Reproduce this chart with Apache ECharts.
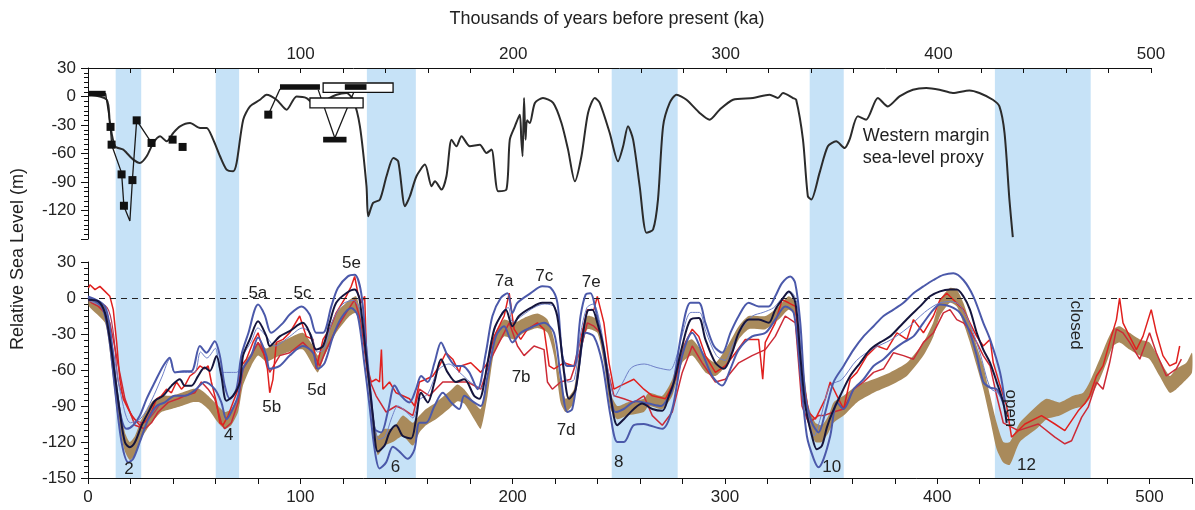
<!DOCTYPE html>
<html><head><meta charset="utf-8">
<script src="https://cdn.jsdelivr.net/npm/echarts@6/dist/echarts.min.js"></script>
<style>html,body{margin:0;padding:0;background:#fff}#c{width:1195px;height:510px}</style>
</head><body><div id="c"></div>
<script>
// ---------- DATA ----------
const glacialBands = [[13,25],[60,71],[131,154],[246,277],[339,355],[426,471]];

// top panel: Western margin sea-level proxy [ka, m]
const proxyCurve = [[0.2,2],[8.8,-3.4],[10.3,-27.9],[12.7,-52.4],[16.6,-55.9],[18.2,-59.4],[21.3,-66.4],[24.4,-69.9],[27.6,-62.9],[30.7,-48.9],[33.9,-41.9],[37,-47.2],[40.1,-38.4],[43.3,-31.4],[48,-27.9],[52.7,-33.1],[55.8,-33.1],[58.9,-45.4],[62.1,-62.9],[65.2,-77],[68.3,-78.7],[69.9,-69.9],[73,-24.4],[76.2,-10.4],[80.9,-3.4],[84,1.9],[88.7,-3.4],[93.4,-13.9],[98.1,0.1],[102.8,-1.6],[107.5,-10.4],[112.2,-3.4],[116.9,1.9],[121.6,3.7],[124.7,-3.4],[127.9,-31.4],[131,-94.5],[131.8,-126],[134.1,-112],[137.3,-108.5],[140.4,-84],[143.6,-64.7],[145.9,-68.2],[149.1,-115.5],[151.4,-105],[154.5,-84],[158.5,-71.7],[161.6,-94.5],[163.2,-89.3],[166.3,-98],[168.6,-84],[171,-45.4],[173.3,-52.4],[175.7,-41.9],[179.6,-52.4],[184.3,-50.7],[187.4,-59.4],[189.8,-55.9],[192.9,-99.8],[196.8,-98],[198.4,-45.4],[200.8,-31.4],[203.1,-19.1],[203.8,-45],[204.4,-62.9],[205.1,-1.6],[205.8,-45.4],[206.5,-25],[207.8,-27.9],[210.2,-6.8],[214,-1.6],[218.8,-6.8],[222.7,-27.9],[225.8,-55.9],[229,-89.3],[232.1,-62.9],[235.2,-17.3],[238.4,-1.6],[240.7,-6.8],[245.4,-38.4],[249.3,-68.2],[251.7,-52.4],[254,-31.4],[256.4,-45.4],[259.5,-94.5],[262.7,-143.5],[265.8,-140],[268.1,-108.5],[270.5,-31.4],[273.6,-6.8],[276.8,1.9],[281.5,-3.4],[287.7,-17.3],[292.4,-24.4],[297.1,-13.9],[303.4,-3.4],[312.8,-1.6],[320.6,1.9],[324.5,-1.6],[326.9,3.7],[331.6,-1.6],[333.1,-3.4],[336.3,-45.4],[338.6,-105],[340.2,-108.5],[344.1,-80.4],[348,-52.4],[351.9,-47.2],[355.9,-54.2],[358.2,-45.4],[362.1,-20.9],[366,-24.4],[371.5,-1.6],[376.2,-10.4],[381.7,0.1],[388,7.1],[394.3,8.9],[400.5,7.1],[406.8,3.7],[414.6,6.4],[419.3,3.7],[425.6,-3.4],[428.7,-10.4],[431.1,-38.4],[433.4,-108.5],[435,-148]];
const reefLine = [[0,3],[8.3,3],[10.5,-30],[11.1,-50.7],[15.8,-80.4],[16.9,-115.5],[19.7,-131],[21,-84],[22.9,-25.1],[29.9,-48.9]];
const reefSquares = [[10.6,-32],[11.1,-50.7],[15.8,-82],[16.9,-115],[20.9,-88],[22.9,-25.1],[29.9,-48.9],[39.8,-45.4],[44.5,-53.1],[84.8,-19.1]];
const reefBars = [[0,8.3,3],[90.3,109.1,10],[120.8,131,10],[110.6,121.6,-45.4]];
const openBoxes = [[110.6,143.5,4.3,14.2],[104.4,129.4,-12,-1.6]];
const linkA = [[84.8,-19.1],[90.3,8]];
const linkV = [[108.3,7],[116.1,-43.6],[125.5,7]];

// bottom panel: brown range band
const bandKa  = [0.5,8,11.1,14.3,17.4,19.7,22.1,25.2,29.9,34.6,39.3,44,48.7,52.7,56.6,61.3,64.4,67.5,70.7,73,76.9,80.1,84,88,93.4,101.2,106,108.3,111.5,116.9,123.2,126.3,129.5,131.8,134.2,136.5,139.7,143.6,148.3,153,156.1,159.2,163.9,170.2,174,177.2,181.9,185,188.2,191.3,196,200.7,205.4,211.7,216.4,219.5,222.6,225,228.9,232,235.2,239.9,243,246.1,249.3,254,261.8,264.2,270.5,275.2,279.9,284.6,290.8,295.5,300.2,306.5,311.2,319.1,325.3,330,333.2,336.3,339.4,342.6,345.7,348.8,351.2,355.9,362.2,370,377.8,385.7,393.5,398.2,401.3,406,409.2,412.3,415.4,418.6,421.7,424.9,428,431.1,434.2,438.9,446.8,451.5,457.7,464,468.7,471.8,476.5,479.7,482.8,485.9,490.6,495.4,500,504.7,509.5,512.6,517.3,520];
const bandHigh = [-1.4,-7,-34.5,-81.5,-112,-120,-115,-101,-87,-81.5,-81.5,-79,-76,-76,-81.5,-90,-95,-92.5,-81.5,-56.6,-45.6,-37,-42,-38,-34.5,-29,-40,-48,-34.5,-12.4,-1.4,1.4,-20.7,-56.6,-95,-115,-109,-109,-98,-104,-98,-92.5,-87,-78,-72,-76,-87,-92.5,-67.7,-32,-18,-20.7,-16.6,-13,-18,-34.5,-70,-84,-76,-37,-15,-18,-43,-79,-90,-87,-84,-79,-81.5,-67.7,-40,-34.5,-48,-54,-43,-23.5,-15,-15,-7,1.4,-4,-48,-90,-104,-106,-98,-87,-81.5,-73,-67.7,-62,-54,-37,-20,-1.4,8.3,7,-4,-20.7,-40,-56.6,-81.5,-104,-120,-120,-104,-90,-84,-87,-81.5,-79,-70,-51,-37,-26,-23.5,-29,-34.5,-37,-51,-65,-59,-54,-45.6];
const bandLow  = [-7,-20.7,-56.6,-103.6,-128,-135,-131,-117,-104,-95,-92.5,-90,-87,-87,-92.5,-104,-109,-106,-95,-73,-56.6,-48,-53,-50,-45.6,-43,-56.6,-62,-48,-29,-15,-12.4,-37,-70,-109,-131,-123,-120,-115,-123,-112,-106,-101,-92,-86,-88,-101,-109,-81.5,-45.6,-32,-34.5,-29,-25,-29,-48,-87,-95,-87,-48,-26,-29,-54,-92.5,-101,-98,-95,-90,-92.5,-81.5,-54,-48,-62,-65,-57,-34.5,-26,-26,-18,-9.7,-15,-65,-106,-120,-120,-112,-104,-98,-87,-79,-73,-65,-48,-32,-15,-4,-7,-20.7,-37,-56.6,-76,-101,-126,-137,-139,-120,-109,-101,-98,-92.5,-90,-84,-68,-54,-40,-37,-43,-48,-51,-65,-79,-76,-68,-62];

// model curves
const navyMean = [[0,-1.4],[4.9,-2.8],[8,-12.4],[10.3,-34.5],[12.7,-64.9],[15,-95.3],[17.4,-120.2],[19.7,-124.3],[22.1,-120.2],[25.2,-106.4],[28.4,-95.3],[31.5,-85.6],[35.4,-81.5],[39.3,-73.2],[43.3,-67.7],[45.6,-73.2],[48.7,-73.2],[51.9,-64.9],[55,-58],[57.4,-60.8],[60.5,-48.3],[62.8,-64.9],[65.2,-85.6],[68.3,-81.5],[71.5,-70.4],[73,-48.3],[76.2,-34.5],[80.1,-19.3],[84,-31.8],[85.6,-40],[90.3,-32],[95,-27.6],[101.2,-20.7],[104.4,-29],[107.5,-43],[110.7,-40],[113.8,-20.7],[116.9,-4],[121.6,4],[125.6,7],[127.9,-1.4],[131,-48],[134.2,-98],[136.5,-128],[139.7,-123],[142,-112],[145.1,-106],[148.3,-115],[152.2,-117],[154.5,-101],[156.9,-79],[160,-87],[163.2,-70],[166.3,-51],[169.4,-62],[173.3,-70],[177.2,-67.7],[181.9,-81.5],[184.3,-84],[188.2,-54],[191.3,-26],[194.4,-15],[196.8,-9.7],[199.9,-23.5],[203,-15],[208.5,-8.3],[214,-4],[218,-4],[221,-15],[224.2,-62],[226.6,-84],[229.7,-76],[232.8,-34.5],[235.2,-11],[237.5,-9.7],[239.9,-20.7],[243,-43],[246.1,-81.5],[249.3,-106],[252.4,-101],[257.1,-92.5],[261,-88],[265.8,-92.5],[270.5,-94],[273.6,-81.5],[276,-70],[279.9,-40],[283.8,-18],[287.7,-16.6],[290.8,-34.5],[295.5,-54],[299.5,-59],[303.4,-45.6],[306.5,-29],[311.2,-18],[315.9,-18],[320.6,-20.7],[323.7,-9.7],[326.9,-1.4],[330,5.5],[333.2,-4],[335.5,-48],[337.9,-90],[341,-115],[343.3,-126],[345.7,-123],[348,-108],[350.5,-96],[354.3,-81.5],[359,-65],[363.7,-54],[368.4,-43],[373.1,-37],[377.8,-32],[382.5,-23.5],[387.2,-15],[391.9,-7],[396.6,1.4],[401.3,5.5],[406,7],[409.2,7],[412.3,1.4],[415.4,-9.7],[418.6,-29],[421.7,-43],[424.9,-54],[428,-70],[431.1,-87],[432.7,-104]];
const blueUpper = [[0,1.4],[8,-7],[11.1,-37],[13.5,-76],[15.8,-101],[18.2,-109],[21.3,-106],[24.4,-98],[27.6,-84],[31.5,-70],[35.4,-56.6],[38.5,-49.7],[40.9,-62],[44.8,-61],[48.7,-61],[52.7,-40],[55.8,-45.6],[59.7,-36],[62.1,-48],[64.4,-73],[66.8,-84],[69.9,-76],[72.2,-48],[75.4,-30],[80.1,-5.5],[83.2,-14],[86.3,-29],[91.9,-20.7],[95,-13.8],[100.5,-7],[104.4,-13.8],[107.5,-29],[110.7,-29],[114.6,-7],[117.7,8.3],[122.4,18],[125.6,19.3],[128.7,4],[131,-40],[133.4,-84],[135,-109],[138.1,-112],[141.2,-95],[144.4,-73],[147.5,-81.5],[151.4,-87],[154.5,-76],[156.9,-65],[160,-70],[163.2,-54],[166.3,-37],[169.4,-48],[173.4,-56.6],[176.4,-56.6],[179.6,-62],[183.5,-76],[187.4,-45.6],[190.5,-15],[194.4,0],[197.6,4],[199.9,-12.4],[202.3,-4],[208.5,4],[214,9.7],[218,8.3],[221.1,-4],[223.4,-48],[225.8,-56.6],[228.9,-56.6],[232,-15],[234.4,2.8],[236.7,4],[239.1,-9.7],[242.2,-37],[245.4,-73],[248.5,-95],[252.4,-92.5],[258,-86],[264,-88],[270,-90],[273,-84],[275.2,-76],[279.9,-26],[283.8,-4],[287.7,-4],[290.8,-20.7],[294.8,-40],[298.7,-45.6],[302.6,-29],[306.5,-15],[311.2,-4],[315.9,-7],[320.6,-7],[323.7,1.4],[326.9,12.4],[330.8,18],[333.1,12.4],[335.5,-20.7],[337.9,-81.5],[341,-104],[344.1,-112],[347.3,-95],[351.2,-70],[355.9,-56.6],[360.6,-43],[365.3,-32],[370,-23.5],[374.7,-15],[379.4,-9.7],[384.1,-4],[388.8,4],[393.5,9.7],[398.2,15],[402.9,19.3],[407.6,20.7],[412.3,15],[417,1.4],[421.7,-20.7],[424.9,-34.5],[429.6,-62],[431.9,-87]];
const blueLower = [[0,0],[6.4,-7],[9.6,-29],[12.7,-76],[15.8,-120],[19,-137],[21.3,-134],[24.4,-120],[28.4,-101],[32.3,-90],[36.2,-87],[40.9,-81.5],[45.6,-81.5],[50.3,-77],[55,-70],[59.7,-76],[62.8,-87],[65.2,-101],[67.5,-95],[70.7,-81.5],[73,-59],[76.9,-48],[80.1,-33],[84,-48],[85.6,-59],[90.3,-56.6],[95,-48],[101.2,-40],[106,-45.6],[108.3,-59],[111.5,-54],[115.4,-32],[119.3,-16.6],[124,-8.3],[127.1,-15],[130.3,-56.6],[132.6,-90],[135,-126],[137.3,-142],[140.4,-137],[143.6,-124],[146.7,-128],[150.6,-134],[153.8,-126],[156.1,-104],[159.2,-104],[163.2,-90],[167.1,-79],[171,-87],[174.9,-92.5],[177.2,-81.5],[181.9,-87],[185,-90],[188.2,-65],[192.1,-32],[196,-23.5],[199.9,-37],[203.8,-29],[210.1,-23.5],[214.8,-20.7],[219.5,-29],[222.6,-65],[225.8,-95],[228.1,-92.5],[231.3,-56.6],[234.4,-29],[238.3,-32],[242.2,-54],[246.1,-98],[249.3,-120],[252.4,-120],[257.1,-106],[261.8,-105],[264.2,-106],[270.5,-109],[275.2,-92.5],[279.9,-48],[284.6,-29],[289.3,-45.6],[294,-65],[298.7,-73],[302.6,-59],[306.5,-43],[312.8,-32],[319.1,-29],[323.7,-18],[328.4,-7],[332.4,-12.4],[335.5,-62],[338.6,-115],[341.8,-134],[344.1,-141],[346.5,-134],[349.6,-115],[352.8,-87],[355.9,-92.5],[360.6,-76],[365.3,-67.7],[370,-56.6],[374.7,-51],[379.4,-43],[384.1,-37],[388.8,-32],[393.5,-20.7],[398.2,-9.7],[401.3,-5.5],[406,-7],[410.7,-12.4],[415.4,-29],[418.6,-48],[421.7,-70],[424.9,-74.6],[428,-76],[431.1,-87]];
const thinBlue = [[0,-2],[8,-10],[12,-45],[16,-85],[20,-104],[25,-100],[30,-85],[35,-65],[38.5,-51],[41,-62],[50,-62],[53,-45],[56,-50],[60,-42],[63,-62],[70,-62],[73,-48],[77,-36],[80,-25],[84,-32],[88,-40],[95,-32],[101,-25],[105,-30],[108,-45],[111,-43],[115,-20],[120,-5],[125,-2],[128,-10],[131,-50],[134,-95],[137,-118],[140,-115],[143,-100],[146,-90],[150,-95],[153,-100],[156,-85],[160,-80],[165,-60],[170,-55],[175,-62],[180,-70],[185,-75],[190,-35],[195,-12],[198,-8],[200,-20],[205,-14],[210,-8],[215,-5],[220,-8],[223,-40],[226,-70],[229,-68],[232,-30],[235,-8],[238,-5],[241,-20],[245,-60],[248,-82],[252,-70],[256,-58],[262,-55],[268,-58],[274,-60],[277,-50],[280,-30],[284,-12],[288,-12],[291,-28],[296,-48],[300,-52],[304,-38],[308,-25],[313,-15],[318,-12],[323,-8],[327,0],[331,5],[334,-5],[336,-50],[339,-95],[342,-115],[345,-100],[348,-80],[350,-72],[355,-68],[362,-52],[370,-42],[378,-35],[386,-25],[394,-12],[400,-5],[405,-3],[410,-5],[415,-20],[420,-45],[425,-75],[429,-80],[432,-95]];
const redUpper = [[0.2,8.3],[0.9,11],[3.3,7],[5.6,9.7],[8,5.5],[10.3,1.4],[11.9,-9.7],[13.5,-37],[15,-67.7],[16.6,-84],[20.5,-98],[24.4,-106],[27.6,-102],[29.9,-95],[32.3,-84],[34.6,-81.5],[37,-76],[39.3,-79],[41.7,-70],[44,-76],[45.6,-73],[48,-65],[50.3,-62],[52.7,-56.6],[55,-59],[56.6,-56.6],[58.1,-70],[60.5,-87],[62.1,-104],[63.6,-106],[66,-98],[68.3,-87],[70.7,-76],[72.2,-56.6],[74.6,-51],[77.7,-37],[80.1,-29],[82.4,-43],[84.5,-59],[85.6,-79],[87.1,-68],[88.7,-37],[91.9,-34.5],[95,-29],[99.7,-15],[102.8,-32],[106,-34.5],[107.5,-59],[110.7,-34.5],[113.8,-26],[116.9,-12.4],[121.6,1.4],[124,9.7],[125.6,18],[127.1,4],[128.7,-4],[130.3,1.4],[131.4,-56.6],[133.4,-70],[135.7,-67.7],[137.3,-70],[138.2,-43],[138.9,-76],[142,-70],[145.1,-79],[148.3,-81.5],[151.4,-84],[153.8,-90],[156.1,-70],[159.2,-67.7],[162.4,-65],[165.5,-56.6],[168.6,-45.6],[171.8,-51],[174.9,-62],[175.6,-56.6],[180.3,-54],[185,-62],[188.2,-54],[191.3,-32],[196,-15],[198.4,4],[200.7,-26],[203.8,-34.5],[207,-26],[211.7,-20.7],[214.8,-26],[217.2,-56.6],[219.5,-59],[224.2,-54],[228.9,-56.6],[232,-34.5],[235.2,-9.7],[238.3,-9.7],[239.9,1.4],[243,-20.7],[245.4,-54],[247.7,-76],[250.9,-73],[257.1,-67.7],[261.8,-76],[265.8,-81.5],[272,-84],[276.7,-67.7],[281.4,-37],[284.6,-26],[287.7,-32],[290.8,-48],[295.5,-62],[300.2,-56.6],[305,-45.6],[309.6,-34.5],[315.9,-34.5],[317.8,-67.7],[319,-37],[323.7,-20.7],[326.9,-1.4],[330,-4],[333.2,-7],[336.3,-62],[339.4,-95],[342.6,-101],[347.3,-84],[349.6,-70],[352.8,-81.5],[355.9,-92.5],[359,-67.7],[362.2,-62],[366.9,-48],[371.6,-40],[376.3,-43],[381,-29],[385.7,-34.5],[388.8,-18],[393.5,-29],[398.2,-15],[401.3,-1.4],[404.5,4],[407.6,-1.4],[412.3,-9.7],[415.4,-20.7],[418.6,-32],[421.7,-40],[424.9,-34.5],[426.4,-54],[429.6,-73],[432.7,-90],[435,-116],[441.3,-105],[449.1,-98],[455.4,-105],[460.1,-110.5],[466.4,-94],[469.5,-88],[471.8,-81.5],[475,-65],[478.1,-56.6],[481.2,-37],[484.4,-18],[485.9,0],[487.5,-20.7],[490.6,-32],[493.8,-43],[496.9,-32],[500.8,-9.7],[503.2,-29],[506.3,-48],[509.5,-56.6],[512.6,-54],[514.2,-40]];
const redLower = [[0.2,-1.4],[1.7,-4],[4.9,-7],[8,-12.4],[10.3,-20.7],[11.9,-34.5],[14.3,-56.6],[17.4,-84],[22.1,-106],[26.8,-109],[29.9,-104],[33,-95],[37.8,-87],[42.5,-84],[45.6,-81.5],[50.3,-79],[53.4,-70],[56.6,-76],[59.7,-84],[62.8,-104],[64.4,-109],[67.5,-104],[70.7,-87],[73,-59],[76.9,-48],[80.1,-37],[83.2,-48],[85.6,-62],[90.3,-48],[95,-45.6],[101.2,-37],[106,-45.6],[109.1,-56.6],[112.2,-43],[116.9,-26],[121.6,-12.4],[125.6,-1.4],[128.7,-20.7],[131.8,-65],[135.7,-81.5],[140.4,-95],[145.1,-90],[148.3,-92.5],[153,-98],[156.1,-76],[160.8,-81.5],[167.1,-70],[173.4,-70],[178.8,-70],[185,-76],[189.7,-51],[194.4,-34.5],[198.4,-20.7],[202.3,-40],[205.4,-48],[210.1,-40],[214.8,-43],[216.4,-70],[218.7,-76],[222.6,-70],[227.3,-67.7],[232,-43],[235.2,-20.7],[238.3,-23.5],[241.4,-29],[244.6,-59],[247.7,-81.5],[252.4,-84],[257.1,-87],[261.8,-81.5],[265.8,-98],[270.5,-106],[275.2,-95],[279.9,-62],[284.6,-40],[289.3,-54],[295.5,-70],[300.2,-67.7],[306.5,-54],[312.8,-48],[319,-43],[323.7,-32],[328.4,-15],[333.2,-20.7],[336.3,-90],[339.4,-104],[344.1,-98],[346.5,-98],[351.2,-95],[355.9,-92.5],[360.6,-76],[365.3,-70],[370,-62],[374.7,-59],[379.4,-45.6],[384.1,-48],[388.8,-51],[393.5,-37],[398.2,-29],[402.9,-12.4],[406,-9.7],[409.2,-18],[412.3,-20.7],[415.4,-26.8],[418.6,-37],[421.7,-48],[424.9,-56.6],[428,-81.5],[431.1,-104],[438.2,-110.5],[447.6,-105],[455.4,-116],[460.1,-121.5],[463.3,-119],[468,-99.5],[471.1,-91],[475,-70],[478.1,-76],[481.2,-54],[484.4,-26],[487.5,-29],[490.6,-37],[495.4,-51],[500,-29],[503.2,-45.6],[507.9,-65],[512.6,-59],[515,-51]];
const crimsonEarly = [[0,-1],[9,-8],[12,-30],[14.3,-70],[18,-88],[22,-101],[26,-104],[30,-98],[34,-88]];

const stageLabels = [
  ['2',19.3,-143],['4',66.3,-114.6],['5a',80,3.9],['5b',86.5,-91.4],['5c',101,3.9],['5d',107.7,-77.3],['5e',124.1,28.8],
  ['6',144.8,-141.1],['7a',196,13.8],['7b',204,-65.7],['7c',214.9,17.9],['7d',225.2,-110.5],['7e',237,13],
  ['8',250,-137],['10',350.3,-141.1],['12',442,-139.5]
];
const rotatedLabels = [['open',434.4,-92],['closed',465,-22.6]];
const topTicksLabel = [100,200,300,400,500];

// ---------- CHART ----------
const FONT = "'Liberation Sans', Arial, Helvetica, sans-serif";
const chart = echarts.init(document.getElementById('c'), null, {renderer:'canvas'});
const axisCol = '#111';
const tickLbl = {fontFamily:FONT, fontSize:17, color:'#222'};

function lineSeries(data, color, width, z, xi, yi, smooth){
  return {type:'line', data, xAxisIndex:xi, yAxisIndex:yi, symbol:'none', smooth:smooth||0, z,
    lineStyle:{color, width}, silent:true, clip:false};
}
const labelItem = {color:'transparent', opacity:1};

const option = {
  animation:false,
  backgroundColor:'#fff',
  grid:[
    {left:88, top:68, width:1063, height:171},
    {left:88, top:262, width:1107, height:216},
    {left:88, top:68, width:1107, height:410}
  ],
  xAxis:[
    {gridIndex:0, type:'value', position:'top', min:0, max:500, interval:20,
     axisLine:{onZero:false, lineStyle:{color:axisCol,width:1}}, axisTick:{inside:true,length:5,lineStyle:{color:axisCol}},
     axisLabel:{...tickLbl, margin:5, formatter:v=>topTicksLabel.includes(v)?String(v):''}, splitLine:{show:false}},
    {gridIndex:1, type:'value', min:0, max:520, interval:20,
     axisLine:{onZero:false, lineStyle:{color:axisCol,width:1}}, axisTick:{length:6,lineStyle:{color:axisCol}},
     axisLabel:{...tickLbl, margin:11, formatter:v=>(v%100===0)?String(v):''}, splitLine:{show:false}},
    {gridIndex:2, type:'value', min:0, max:520, show:false}
  ],
  yAxis:[
    {gridIndex:0, type:'value', min:-150, max:30, interval:30,
     axisLine:{show:true, onZero:false, lineStyle:{color:axisCol,width:1}}, axisTick:{show:true,length:7,lineStyle:{color:axisCol}},
     minorTick:{show:true, splitNumber:6, length:4, lineStyle:{color:axisCol}},
     axisLabel:{...tickLbl, margin:12, formatter:v=>v===-150?'':String(v)}, splitLine:{show:false}},
    {gridIndex:1, type:'value', min:-150, max:30, interval:30,
     axisLine:{show:true, onZero:false, lineStyle:{color:axisCol,width:1}}, axisTick:{show:true,length:7,lineStyle:{color:axisCol}},
     minorTick:{show:true, splitNumber:6, length:4, lineStyle:{color:axisCol}},
     axisLabel:{...tickLbl, margin:12}, splitLine:{show:false}},
    {gridIndex:2, type:'value', min:0, max:1, show:false}
  ],
  graphic:[
    {type:'text', x:607, y:19, style:{text:'Thousands of years before present (ka)', font:'18px '+FONT, fill:'#222', align:'center', verticalAlign:'middle'}},
    {type:'text', x:18, y:259, rotation:Math.PI/2, style:{text:'Relative Sea Level (m)', font:'18px '+FONT, fill:'#222', align:'center', verticalAlign:'middle'}}
  ],
  series:[
    {type:'custom', xAxisIndex:2, yAxisIndex:2, z:0, silent:true, data:glacialBands,
     renderItem:(p,api)=>{const a=api.coord([api.value(0),1]); const b=api.coord([api.value(1),0]);
       return {type:'rect', shape:{x:a[0],y:a[1],width:b[0]-a[0],height:b[1]-a[1]}, style:{fill:'#c6e2f7'}};}},
    {type:'custom', xAxisIndex:1, yAxisIndex:1, z:2, silent:true, data:[[0,0]],
     renderItem:(p,api)=>{const pts=[]; for(let i=0;i<bandKa.length;i++) pts.push(api.coord([bandKa[i],bandHigh[i]]));
       for(let i=bandKa.length-1;i>=0;i--) pts.push(api.coord([bandKa[i],bandLow[i]]));
       return {type:'polygon', shape:{points:pts, smooth:0.2}, style:{fill:'#a98a5b'}};}},
    {type:'line', xAxisIndex:1, yAxisIndex:1, data:[], z:9, silent:true,
     markLine:{silent:true, symbol:['none','none'], label:{show:false}, lineStyle:{color:'#222', type:[6,5], width:1},
       data:[{yAxis:0}]}},
    lineSeries(crimsonEarly,'#b03a5a',1.2,3,1,1,0.3),
    lineSeries(redLower,'#cc2a36',1.5,3,1,1),
    lineSeries(redUpper,'#e0201e',1.5,3,1,1),
    lineSeries(thinBlue,'#6f80c8',1,4,1,1,0.3),
    lineSeries(blueLower,'#4b59aa',2,5,1,1,0.3),
    lineSeries(blueUpper,'#4b59aa',2,5,1,1,0.3),
    lineSeries(navyMean,'#15153d',2,6,1,1,0.3),
    lineSeries(proxyCurve,'#2b2b2b',2,5,0,0,0.25),
    lineSeries(reefLine,'#1a1a1a',1.3,5,0,0),
    lineSeries(linkA,'#1a1a1a',1.3,5,0,0),
    lineSeries(linkV,'#1a1a1a',1.3,5,0,0),
    {type:'scatter', xAxisIndex:0, yAxisIndex:0, data:reefSquares, symbol:'rect', symbolSize:[8,8], z:7, silent:true,
     itemStyle:{color:'#111', opacity:1}},
    {type:'custom', xAxisIndex:0, yAxisIndex:0, z:6, silent:true, data:openBoxes,
     renderItem:(p,api)=>{const a=api.coord([api.value(0),api.value(3)]); const b=api.coord([api.value(1),api.value(2)]);
       return {type:'rect', shape:{x:a[0],y:a[1],width:b[0]-a[0],height:b[1]-a[1]}, style:{fill:'#fff', stroke:'#111', lineWidth:1.3}};}},
    {type:'custom', xAxisIndex:0, yAxisIndex:0, z:8, silent:true, data:reefBars,
     renderItem:(p,api)=>{const a=api.coord([api.value(0),api.value(2)+3]); const b=api.coord([api.value(1),api.value(2)-3]);
       return {type:'rect', shape:{x:a[0],y:a[1],width:b[0]-a[0],height:b[1]-a[1]}, style:{fill:'#111'}};}},
    {type:'scatter', xAxisIndex:0, yAxisIndex:0, z:10, silent:true, symbolSize:1, itemStyle:labelItem,
     data:[{value:[364.4,-52.8], name:'Western margin\nsea-level proxy'}],
     label:{show:true, position:'inside', align:'left', verticalAlign:'middle', formatter:'{b}', fontFamily:FONT, fontSize:18, lineHeight:22, color:'#222'}},
    {type:'scatter', xAxisIndex:1, yAxisIndex:1, z:10, silent:true, symbolSize:1, itemStyle:labelItem,
     data:stageLabels.map(s=>({value:[s[1],s[2]], name:s[0]})),
     label:{show:true, position:'inside', formatter:'{b}', fontFamily:FONT, fontSize:17, color:'#222'}},
    {type:'scatter', xAxisIndex:1, yAxisIndex:1, z:10, silent:true, symbolSize:1, itemStyle:labelItem,
     data:rotatedLabels.map(s=>({value:[s[1],s[2]], name:s[0]})),
     label:{show:true, position:'inside', rotate:-90, formatter:'{b}', fontFamily:FONT, fontSize:17, color:'#222'}}
  ]
};
chart.setOption(option);
</script>
</body></html>
